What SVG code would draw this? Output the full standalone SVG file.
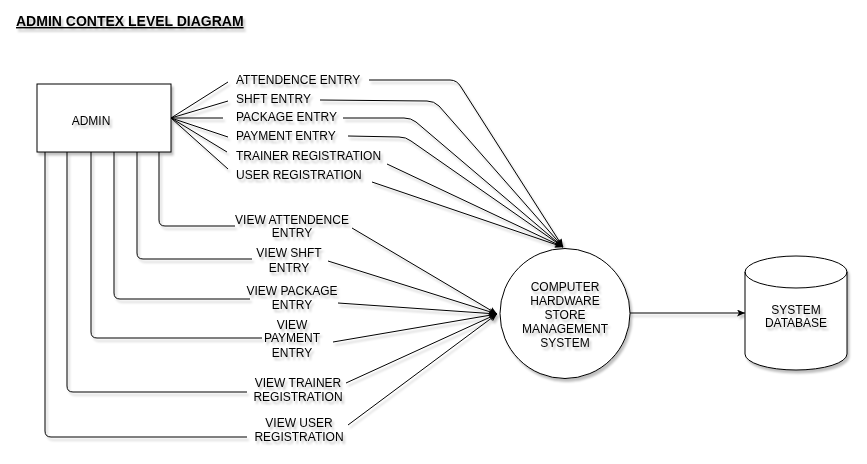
<svg xmlns="http://www.w3.org/2000/svg" width="867" height="464" viewBox="0 0 867 464">
<style>
text{font-family:"Liberation Sans",Arial,sans-serif;font-size:12px;fill:#000;}
.c{text-anchor:middle;}
.title{font-size:14px;font-weight:bold;text-decoration:underline;}
.sh{filter:url(#shadow);}
.ln{fill:none;stroke:#000;stroke-width:1;}
.shape{fill:#fff;stroke:#000;stroke-width:1;}
</style>
<defs>
<filter id="shadow" x="-20%" y="-20%" width="150%" height="150%">
<feDropShadow dx="2" dy="3" stdDeviation="1.2" flood-color="#000" flood-opacity="0.25"/>
</filter>
<marker id="arr" markerUnits="userSpaceOnUse" markerWidth="10" markerHeight="8" refX="8" refY="3.5" orient="auto">
<path d="M0,0 L8,3.5 L0,7 L2,3.5 z" fill="#000"/>
</marker>
</defs>
<rect width="867" height="464" fill="#fff"/>
<text class="title sh" x="16" y="26">ADMIN CONTEX LEVEL DIAGRAM</text>

<g id="connectors" class="sh">
<!-- fan from admin to entry labels -->
<path class="ln" d="M171,118 L228,82"/>
<path class="ln" d="M171,118 L228,101"/>
<path class="ln" d="M171,118 L223,118"/>
<path class="ln" d="M171,118 L228,137"/>
<path class="ln" d="M171,118 L227,152"/>
<path class="ln" d="M171,118 L228,169"/>
<!-- entry labels to system -->
<path class="ln" d="M369,80 L450,80 Q457,80 461,87 L563,247" marker-end="url(#arr)"/>
<path class="ln" d="M320,100 L427,101 Q434,101 439,106 L563,247" marker-end="url(#arr)"/>
<path class="ln" d="M343,118 L404,118 Q411,118 416,122 L563,247" marker-end="url(#arr)"/>
<path class="ln" d="M348,136 L399,137 Q406,137 411,141 L563,247" marker-end="url(#arr)"/>
<path class="ln" d="M387,164 L563,247" marker-end="url(#arr)"/>
<path class="ln" d="M372,182 L563,247" marker-end="url(#arr)"/>
<!-- admin to view labels -->
<path class="ln" d="M159,152 L159,220 Q159,226 165,226 L235,226"/>
<path class="ln" d="M137,152 L137,253 Q137,259 143,259 L252,259"/>
<path class="ln" d="M114,152 L114,293 Q114,299 120,299 L250,299"/>
<path class="ln" d="M91,152 L91,332 Q91,338 97,338 L262,338"/>
<path class="ln" d="M67,152 L67,386 Q67,392 73,392 L247,392"/>
<path class="ln" d="M45,152 L45,431 Q45,437 51,437 L247,437"/>
<!-- view labels to system -->
<path class="ln" d="M352,228 L497,314" marker-end="url(#arr)"/>
<path class="ln" d="M328,261 L497,314" marker-end="url(#arr)"/>
<path class="ln" d="M338,303 L497,314" marker-end="url(#arr)"/>
<path class="ln" d="M333,342 L497,314" marker-end="url(#arr)"/>
<path class="ln" d="M346,383 L497,314" marker-end="url(#arr)"/>
<path class="ln" d="M348,425 L497,314" marker-end="url(#arr)"/>
<!-- system to database -->
<path class="ln" d="M630,313 L745,313" marker-end="url(#arr)"/>
</g>

<g id="admin">
<rect class="shape sh" x="37" y="84" width="134" height="68"/>
<text class="c sh" x="91" y="125">ADMIN</text>
</g>

<g id="labels-entry" class="sh">
<text x="236" y="84">ATTENDENCE ENTRY</text>
<text x="236" y="103">SHFT ENTRY</text>
<text x="236" y="121">PACKAGE ENTRY</text>
<text x="236" y="140">PAYMENT ENTRY</text>
<text x="236" y="160">TRAINER REGISTRATION</text>
<text x="236" y="179">USER REGISTRATION</text>
</g>

<g id="labels-view" class="sh">
<text class="c" x="292" y="224">VIEW ATTENDENCE</text>
<text class="c" x="292" y="237">ENTRY</text>
<text class="c" x="289" y="257">VIEW SHFT</text>
<text class="c" x="289" y="272">ENTRY</text>
<text class="c" x="292" y="295">VIEW PACKAGE</text>
<text class="c" x="292" y="309">ENTRY</text>
<text class="c" x="292" y="329">VIEW</text>
<text class="c" x="292" y="342">PAYMENT</text>
<text class="c" x="292" y="357">ENTRY</text>
<text class="c" x="298" y="387">VIEW TRAINER</text>
<text class="c" x="298" y="401">REGISTRATION</text>
<text class="c" x="299" y="427">VIEW USER</text>
<text class="c" x="299" y="441">REGISTRATION</text>
</g>

<g id="system">
<circle class="shape sh" cx="565" cy="313.5" r="65"/>
<text class="c sh" x="565" y="291">COMPUTER</text>
<text class="c sh" x="565" y="305">HARDWARE</text>
<text class="c sh" x="565" y="319">STORE</text>
<text class="c sh" x="565" y="333">MANAGEMENT</text>
<text class="c sh" x="565" y="347">SYSTEM</text>
</g>

<g id="database">
<path class="shape sh" d="M745,272 A51,16 0 0 1 847,272 L847,354 A51,16 0 0 1 745,354 Z"/>
<path class="ln" d="M745,272 A51,16 0 0 0 847,272"/>
<text class="c sh" x="796" y="314">SYSTEM</text>
<text class="c sh" x="796" y="327">DATABASE</text>
</g>
</svg>
